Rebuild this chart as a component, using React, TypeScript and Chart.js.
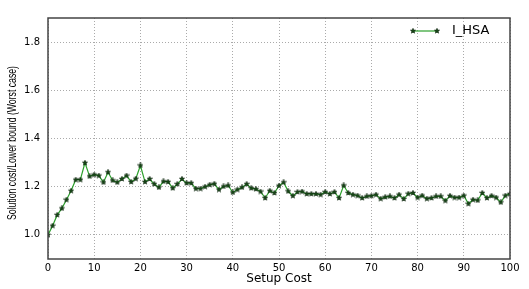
import { useEffect, useRef } from "react";
import { Chart, registerables } from "chart.js";
Chart.register(...registerables);

const seriesName = "I_HSA";
const xTitle = "Setup Cost";
const yTitle = "Solution cost/Lower bound (Worst case)";
const yTickValues = [1.0, 1.2, 1.4, 1.6, 1.8];
const xTickValues = [0, 10, 20, 30, 40, 50, 60, 70, 80, 90, 100];
const ratioValues = [
  1.0, 1.038, 1.083, 1.11, 1.146, 1.183, 1.229, 1.229, 1.299, 1.243,
  1.25, 1.246, 1.218, 1.26, 1.226, 1.218, 1.232, 1.246, 1.22, 1.233,
  1.288, 1.22, 1.232, 1.211, 1.197, 1.222, 1.22, 1.194, 1.211, 1.232,
  1.215, 1.215, 1.192, 1.192, 1.2, 1.208, 1.212, 1.188, 1.201, 1.205,
  1.176, 1.188, 1.197, 1.211, 1.194, 1.19, 1.18, 1.153, 1.183, 1.174,
  1.204, 1.218, 1.181, 1.162, 1.178, 1.18, 1.17, 1.17, 1.17, 1.167,
  1.178, 1.17, 1.178, 1.153, 1.205, 1.174, 1.167, 1.163, 1.153, 1.16,
  1.162, 1.167, 1.15, 1.157, 1.16, 1.153, 1.167, 1.149, 1.171, 1.174,
  1.155, 1.163, 1.15, 1.153, 1.16, 1.16, 1.142, 1.162, 1.155, 1.155,
  1.163, 1.129, 1.146, 1.143, 1.174, 1.153, 1.162, 1.155, 1.135, 1.163,
  1.17,
];

function makeStar(size: number): HTMLCanvasElement {
  const c = document.createElement("canvas");
  c.width = size;
  c.height = size;
  const ctx = c.getContext("2d")!;
  const cx = size / 2, cy = size / 2;
  const R = size / 2 - 0.3, r = R * 0.45;
  ctx.beginPath();
  for (let i = 0; i < 10; i++) {
    const ang = -Math.PI / 2 + (i * Math.PI) / 5;
    const rad = i % 2 === 0 ? R : r;
    const px = cx + rad * Math.cos(ang), py = cy + rad * Math.sin(ang);
    if (i === 0) ctx.moveTo(px, py); else ctx.lineTo(px, py);
  }
  ctx.closePath();
  ctx.fillStyle = "#1a4a1a";
  ctx.fill();
  ctx.strokeStyle = "#0a200a";
  ctx.lineWidth = 0.6;
  ctx.stroke();
  return c;
}

export default function App() {
  const ref = useRef<HTMLCanvasElement>(null);
  useEffect(() => {
    document.body.style.margin = "0";
    const star = makeStar(6);
    const lineColor = "#2ca02c";
    const framePlugin = {
      id: "frame",
      afterDraw(chart: any) {
        const { ctx, chartArea: a } = chart;
        ctx.save();
        ctx.strokeStyle = "#444";
        ctx.lineWidth = 1.5;
        ctx.strokeRect(a.left, a.top, a.right - a.left, a.bottom - a.top);
        // legend
        const ly = 31;
        ctx.strokeStyle = lineColor;
        ctx.lineWidth = 1.2;
        ctx.beginPath();
        ctx.moveTo(413, ly);
        ctx.lineTo(437, ly);
        ctx.stroke();
        ctx.drawImage(star, 413 - 3, ly - 3);
        ctx.drawImage(star, 437 - 3, ly - 3);
        ctx.fillStyle = "#000";
        ctx.font = "13px 'DejaVu Sans'";
        ctx.textBaseline = "middle";
        ctx.textAlign = "left";
        ctx.fillText(seriesName, 452, ly);
        // y title
        ctx.save();
        ctx.translate(12, 143);
        ctx.rotate(-Math.PI / 2);
        ctx.font = "13px 'Liberation Sans', Arial";
        const w = ctx.measureText(yTitle).width;
        ctx.scale(154 / w, 1);
        ctx.textAlign = "center";
        ctx.textBaseline = "middle";
        ctx.fillText(yTitle, 0, 0);
        ctx.restore();
        // x title
        ctx.font = "12px 'DejaVu Sans'";
        ctx.textAlign = "center";
        ctx.textBaseline = "middle";
        ctx.fillText(xTitle, (a.left + a.right) / 2, 279);
        ctx.restore();
      },
    };
    const chart = new Chart(ref.current!, {
      type: "line",
      data: {
        datasets: [
          {
            label: seriesName,
            data: ratioValues.map((v, i) => ({ x: i, y: v })),
            borderColor: lineColor,
            borderWidth: 1.2,
            pointStyle: star as any,
            pointRadius: 3,
            tension: 0,
          },
        ],
      },
      options: {
        animation: false,
        responsive: false,
        layout: { padding: { top: 18, right: 19, left: 0, bottom: 0 } },
        plugins: { legend: { display: false }, tooltip: { enabled: false } },
        scales: {
          x: {
            type: "linear",
            min: 0,
            max: 100,
            afterBuildTicks: (s: any) => { s.ticks = xTickValues.map((v) => ({ value: v })); },
            afterFit: (s: any) => { s.height = 30; },
            ticks: { color: "#000", font: { family: "DejaVu Sans", size: 10 }, padding: 3, maxRotation: 0 },
            grid: { color: "#aaa", lineWidth: 1, drawTicks: false },
            border: { display: false, dash: [1, 2] },
          },
          y: {
            min: 0.9,
            max: 1.9,
            afterBuildTicks: (s: any) => { s.ticks = yTickValues.map((v) => ({ value: v })); },
            afterFit: (s: any) => { s.width = 48; },
            ticks: { color: "#000", font: { family: "DejaVu Sans", size: 10 }, padding: 8, callback: (v: any) => Number(v).toFixed(1) },
            grid: { color: "#aaa", lineWidth: 1, drawTicks: false },
            border: { display: false, dash: [1, 2] },
          },
        },
      },
      plugins: [framePlugin],
    });
    return () => chart.destroy();
  }, []);
  return (
    <div style={{ position: "absolute", left: 0, top: 0, width: 529, height: 289 }}>
      <canvas ref={ref} width={529} height={289} />
    </div>
  );
}
